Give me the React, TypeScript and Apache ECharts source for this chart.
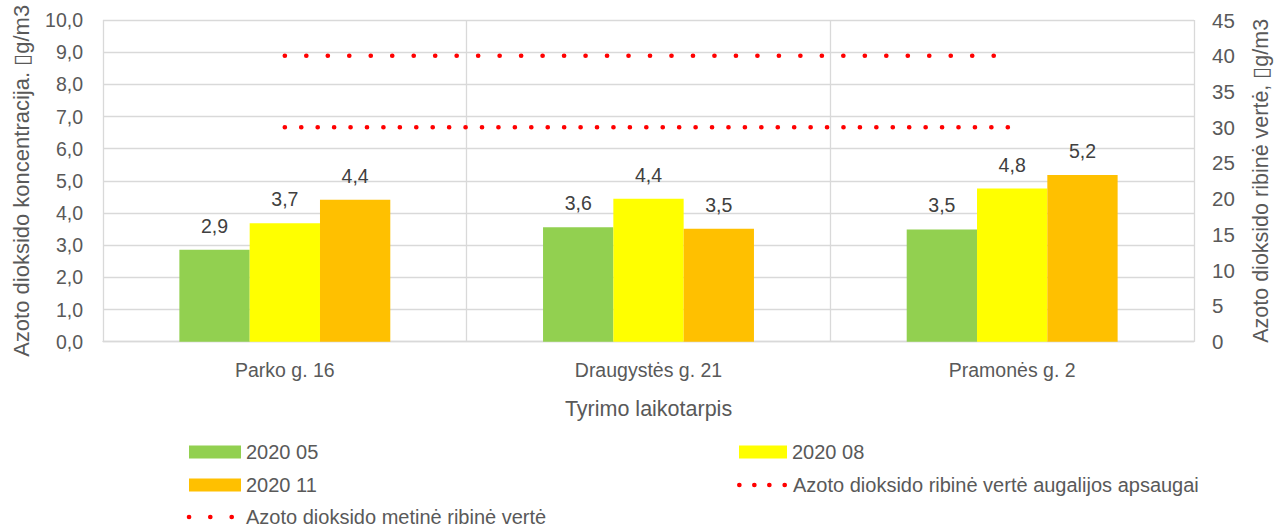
import React, { useEffect, useRef } from "react";
import * as echarts from "echarts";

const categories = ["Parko g. 16", "Draugystės g. 21", "Pramonės g. 2"];
const seriesNames = ["2020 05", "2020 08", "2020 11"];
const values05 = [2.86, 3.56, 3.49];
const values08 = [3.68, 4.44, 4.76];
const values11 = [4.41, 3.51, 5.18];
const annualLimitName = "Azoto dioksido metinė ribinė vertė";
const vegetationLimitName = "Azoto dioksido ribinė vertė augalijos apsaugai";
const annualLimit = [40, 40, 40];
const vegetationLimit = [30, 30, 30];
const leftAxis = { min: 0, max: 10, step: 1 };
const rightAxis = { min: 0, max: 45, step: 5 };
const leftAxisName = "Azoto dioksido koncentracija. \u25AFg/m3";
const rightAxisName = "Azoto dioksido ribinė vertė, \u25AFg/m3";
const xAxisName = "Tyrimo laikotarpis";

const FONT = "'Liberation Sans', Arial, sans-serif";
const GRAY = "#595959";
const GRID = "#d9d9d9";
const RED = "#ff0000";
const barColors = ["#92d050", "#ffff00", "#ffc000"];

const circle = (cx: number, cy: number, r: number) =>
  `M${cx - r} ${cy} a${r} ${r} 0 1 0 ${2 * r} 0 a${r} ${r} 0 1 0 ${-2 * r} 0 Z `;
const dots3 =
  "path://" + circle(23.5, 23.5, 23.5) + circle(236, 23.5, 23.5) + circle(450, 23.5, 23.5) + "M543 23.5";
const dots4 =
  "path://" +
  circle(23.5, 23.5, 23.5) +
  circle(173.5, 23.5, 23.5) +
  circle(323.5, 23.5, 23.5) +
  circle(477, 23.5, 23.5) +
  "M510 23.5";

const fmt1 = (v: number) => v.toFixed(1).replace(".", ",");

export default function App() {
  const ref = useRef<HTMLDivElement>(null);
  useEffect(() => {
    if (!ref.current) return;
    const chart = echarts.init(ref.current, undefined, { renderer: "svg" });
    const textStyle = { fontSize: 19.5, color: GRAY, fontFamily: FONT };
    const legendBase = {
      padding: 0,
      itemGap: 0,
      selectedMode: false,
      textStyle: { ...textStyle, fontSize: 20 },
      orient: "horizontal",
    };
    const barSeries = [values05, values08, values11].map((vals, i) => ({
      name: seriesNames[i],
      type: "bar",
      data: vals,
      yAxisIndex: 0,
      barGap: "0%",
      barCategoryGap: "42%",
      itemStyle: { color: barColors[i] },
      label: {
        show: true,
        position: "top",
        distance: 14,
        formatter: (p: any) => fmt1(p.value),
        fontSize: 19.5,
        color: "#404040",
        fontFamily: FONT,
      },
      silent: true,
    }));
    const lineSeries = [
      { name: annualLimitName, data: annualLimit, dash: [0.001, 21.48] },
      { name: vegetationLimitName, data: vegetationLimit, dash: [0.001, 16.43] },
    ].map((s) => ({
      name: s.name,
      type: "line",
      data: s.data,
      yAxisIndex: 1,
      symbol: "none",
      silent: true,
      itemStyle: { color: RED },
      lineStyle: { color: RED, width: 4.7, type: s.dash, cap: "round" },
    }));
    chart.setOption({
      animation: false,
      backgroundColor: "#ffffff",
      grid: { left: 103, right: 92, top: 20, bottom: 186.3, containLabel: false },
      xAxis: {
        type: "category",
        data: categories,
        name: xAxisName,
        nameLocation: "middle",
        nameGap: 56,
        nameTextStyle: { fontSize: 21.5, color: GRAY, fontFamily: FONT },
        axisLine: { show: true, lineStyle: { color: GRID, width: 1.3 } },
        axisTick: { show: false },
        axisLabel: { margin: 18, ...textStyle },
        splitLine: { show: true, lineStyle: { color: GRID, width: 1.3 } },
      },
      yAxis: [
        {
          type: "value",
          position: "left",
          min: leftAxis.min,
          max: leftAxis.max,
          interval: leftAxis.step,
          name: leftAxisName,
          nameLocation: "middle",
          nameRotate: 90,
          nameGap: 71,
          nameTextStyle: { fontSize: 22, color: GRAY, fontFamily: FONT },
          axisLine: { show: false },
          axisTick: { show: false },
          axisLabel: { margin: 20, formatter: (v: number) => fmt1(v), ...textStyle },
          splitLine: { show: true, lineStyle: { color: GRID, width: 1.3 } },
        },
        {
          type: "value",
          position: "right",
          min: rightAxis.min,
          max: rightAxis.max,
          interval: rightAxis.step,
          name: rightAxisName,
          nameLocation: "middle",
          nameRotate: 90,
          nameGap: 56,
          nameTextStyle: { fontSize: 21.5, color: GRAY, fontFamily: FONT },
          axisLine: { show: false },
          axisTick: { show: false },
          axisLabel: { margin: 18, ...textStyle, fontSize: 20.5 },
          splitLine: { show: false },
        },
      ],
      legend: [
        { ...legendBase, left: 189, top: 442, itemWidth: 52, itemHeight: 13, icon: "rect", data: [seriesNames[0]] },
        { ...legendBase, left: 739, top: 442, itemWidth: 48, itemHeight: 13, icon: "rect", data: [seriesNames[1]] },
        { ...legendBase, left: 189, top: 475, itemWidth: 52, itemHeight: 13, icon: "rect", data: [seriesNames[2]] },
        {
          ...legendBase,
          left: 737,
          top: 475,
          itemWidth: 51,
          itemHeight: 4.7,
          icon: dots4,
          itemStyle: { color: RED, borderWidth: 0 },
          data: [vegetationLimitName],
        },
        {
          ...legendBase,
          left: 186.7,
          top: 507,
          itemWidth: 54.3,
          itemHeight: 4.7,
          icon: dots3,
          itemStyle: { color: RED, borderWidth: 0 },
          data: [annualLimitName],
        },
      ],
      series: [...barSeries, ...lineSeries],
    });
    return () => chart.dispose();
  }, []);
  return (
    <div
      ref={ref}
      style={{ position: "absolute", left: 0, top: 0, width: 1286, height: 528 }}
    />
  );
}
